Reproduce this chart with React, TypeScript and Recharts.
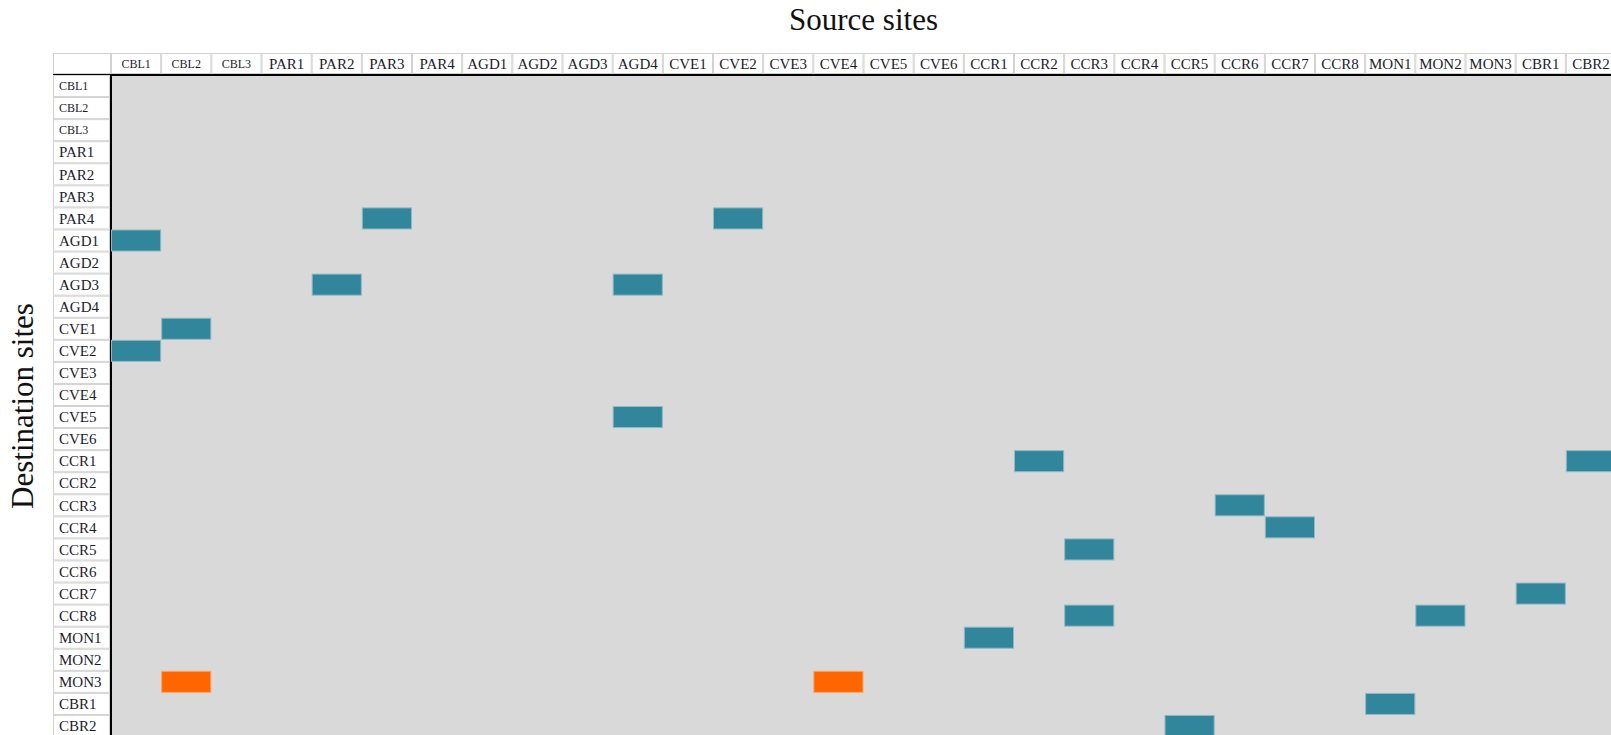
import { ScatterChart, Scatter, XAxis, YAxis, CartesianGrid } from 'recharts';

const sourceSites = [
  'CBL1', 'CBL2', 'CBL3', 'PAR1', 'PAR2', 'PAR3', 'PAR4', 'AGD1', 'AGD2', 'AGD3',
  'AGD4', 'CVE1', 'CVE2', 'CVE3', 'CVE4', 'CVE5', 'CVE6', 'CCR1', 'CCR2', 'CCR3',
  'CCR4', 'CCR5', 'CCR6', 'CCR7', 'CCR8', 'MON1', 'MON2', 'MON3', 'CBR1', 'CBR2',
];

const destinationSites = [
  'CBL1', 'CBL2', 'CBL3', 'PAR1', 'PAR2', 'PAR3', 'PAR4', 'AGD1', 'AGD2', 'AGD3',
  'AGD4', 'CVE1', 'CVE2', 'CVE3', 'CVE4', 'CVE5', 'CVE6', 'CCR1', 'CCR2', 'CCR3',
  'CCR4', 'CCR5', 'CCR6', 'CCR7', 'CCR8', 'MON1', 'MON2', 'MON3', 'CBR1', 'CBR2',
];

// labels printed in a smaller font in the original table
const smallLabels = ['CBL1', 'CBL2', 'CBL3'];

// [destination, source]
const tealLinks = [
  ['PAR4', 'PAR3'], ['PAR4', 'CVE2'],
  ['AGD1', 'CBL1'],
  ['AGD3', 'PAR2'], ['AGD3', 'AGD4'],
  ['CVE1', 'CBL2'],
  ['CVE2', 'CBL1'],
  ['CVE5', 'AGD4'],
  ['CCR1', 'CCR2'], ['CCR1', 'CBR2'],
  ['CCR3', 'CCR6'],
  ['CCR4', 'CCR7'],
  ['CCR5', 'CCR3'],
  ['CCR7', 'CBR1'],
  ['CCR8', 'CCR3'], ['CCR8', 'MON2'],
  ['MON1', 'CCR1'],
  ['CBR1', 'MON1'],
  ['CBR2', 'CCR5'],
];

const orangeLinks = [
  ['MON3', 'CBL2'], ['MON3', 'CVE4'],
];

const CHART_W = 1616;
const CHART_H = 740;
const MARGIN = { top: 53, right: 0, bottom: 3, left: 53 };
const HEADER_H = 22;
const LABEL_W = 58;
const PLOT_W = CHART_W - MARGIN.left - MARGIN.right - LABEL_W;
const PLOT_H = CHART_H - MARGIN.top - MARGIN.bottom - HEADER_H;
const CELL_W = PLOT_W / sourceSites.length;
const CELL_H = PLOT_H / destinationSites.length;

const FONT = '"Liberation Serif", "DejaVu Serif", serif';
const TEXT_COLOR = '#1c1c30';
const BORDER = '#d2d2d2';

const frameData = sourceSites.map((s, i) => ({ src: s, dst: destinationSites[i] }));
const tealData = tealLinks.map(([dst, src]) => ({ src, dst }));
const orangeData = orangeLinks.map(([dst, src]) => ({ src, dst }));

const SourceTick = ({ x, payload, index }: any) => {
  const small = smallLabels.includes(payload.value);
  const left = x - CELL_W / 2;
  const fs = small ? 12 : 15;
  return (
    <g>
      {index === 0 && (
        <g>
          <rect x={MARGIN.left + 0.5} y={MARGIN.top + 0.5} width={LABEL_W - 1} height={HEADER_H - 2} fill="#fff" stroke={BORDER} />
          <line x1={MARGIN.left} x2={MARGIN.left + LABEL_W} y1={MARGIN.top + HEADER_H} y2={MARGIN.top + HEADER_H} stroke="#000" strokeWidth={2} />
        </g>
      )}
      <rect x={left + 0.5} y={MARGIN.top + 0.5} width={CELL_W - 1} height={HEADER_H - 2} fill="#fff" stroke={BORDER} />
      <text
        x={x}
        y={MARGIN.top + HEADER_H / 2 + fs * 0.33}
        textAnchor="middle"
        fontSize={fs}
        fontFamily={FONT}
        fill={TEXT_COLOR}
      >
        {payload.value}
      </text>
    </g>
  );
};

const DestTick = ({ y, payload }: any) => {
  const small = smallLabels.includes(payload.value);
  const fs = small ? 12 : 15;
  const top = y - CELL_H / 2;
  return (
    <g>
      <rect x={MARGIN.left + 0.5} y={top + 0.5} width={LABEL_W - 2} height={CELL_H - 1} fill="#fff" stroke={BORDER} />
      <text
        x={MARGIN.left + 6}
        y={y + fs * 0.35}
        textAnchor="start"
        fontSize={fs}
        fontFamily={FONT}
        fill={TEXT_COLOR}
      >
        {payload.value}
      </text>
    </g>
  );
};

const cellShape = (color: string, edge: string) => (props: any) => {
  const { cx, cy } = props;
  if (cx == null || cy == null) return <g />;
  return (
    <rect
      x={cx - CELL_W / 2 + 0.5}
      y={cy - CELL_H / 2 + 0.5}
      width={CELL_W - 1}
      height={CELL_H - 1}
      fill={color}
      stroke={edge}
      strokeWidth={1}
    />
  );
};

const SourceTitle = ({ viewBox }: any) => (
  <text
    x={viewBox.x + viewBox.width / 2}
    y={viewBox.y - 23}
    textAnchor="middle"
    fontSize={31}
    fontFamily={FONT}
    fill="#111"
  >
    Source sites
  </text>
);

const DestTitle = ({ viewBox }: any) => {
  const cx = viewBox.x - 20;
  const cy = viewBox.y + viewBox.height / 2;
  return (
    <text
      x={cx}
      y={cy}
      transform={`rotate(-90, ${cx}, ${cy})`}
      textAnchor="middle"
      fontSize={31}
      fontFamily={FONT}
      fill="#111"
    >
      Destination sites
    </text>
  );
};

export default function App() {
  return (
    <div style={{ position: 'fixed', left: 0, top: 0, width: 1611, height: 735, overflow: 'hidden', background: '#fff' }}>
      <ScatterChart width={CHART_W} height={CHART_H} margin={MARGIN}>
        <CartesianGrid fill="#d9d9d9" stroke="none" horizontal={false} vertical={false} />
        <XAxis
          xAxisId="x"
          dataKey="src"
          type="category"
          orientation="top"
          allowDuplicatedCategory={false}
          height={HEADER_H}
          interval={0}
          tickLine={false}
          axisLine={{ stroke: '#000', strokeWidth: 2 }}
          tick={<SourceTick />}
          label={<SourceTitle />}
        />
        <YAxis
          yAxisId="y"
          dataKey="dst"
          type="category"
          reversed
          allowDuplicatedCategory={false}
          width={LABEL_W}
          interval={0}
          tickLine={false}
          axisLine={{ stroke: '#000', strokeWidth: 2 }}
          tick={<DestTick />}
          label={<DestTitle />}
        />
        <Scatter xAxisId="x" yAxisId="y" data={frameData} shape={() => <g />} isAnimationActive={false} />
        <Scatter xAxisId="x" yAxisId="y" data={tealData} shape={cellShape('#31869b', '#8fb9c6')} isAnimationActive={false} />
        <Scatter xAxisId="x" yAxisId="y" data={orangeData} shape={cellShape('#ff6600', '#ffa366')} isAnimationActive={false} />
      </ScatterChart>
    </div>
  );
}
